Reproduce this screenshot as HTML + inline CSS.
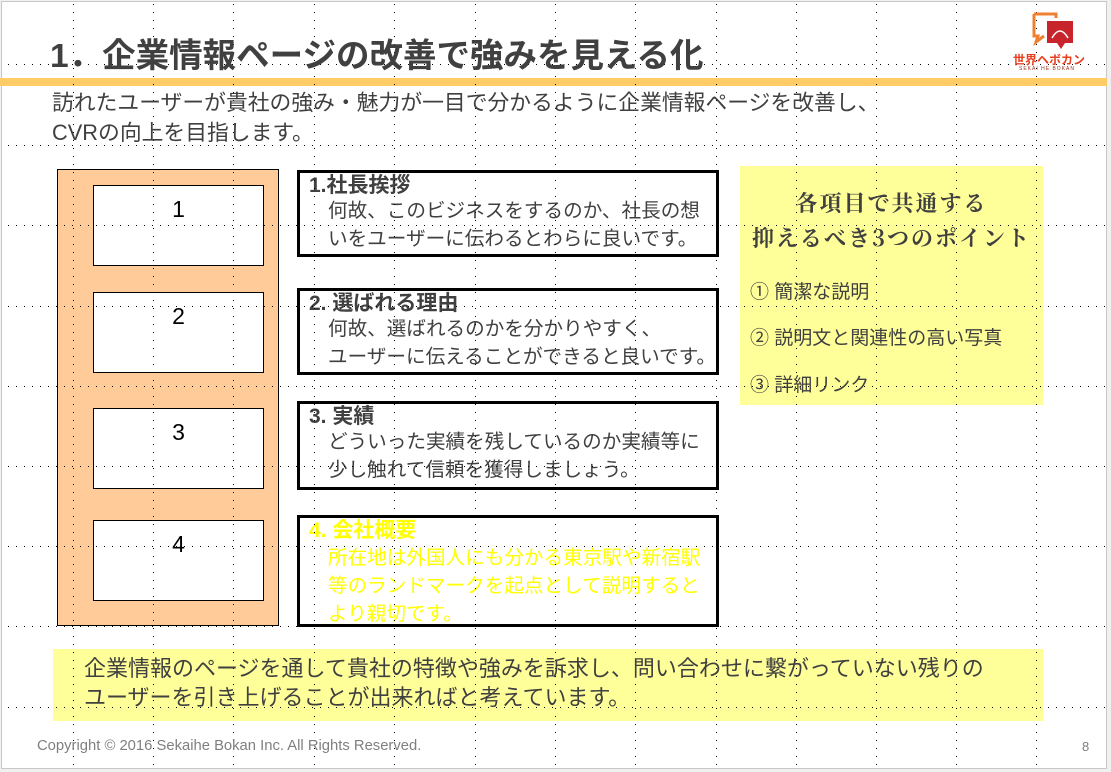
<!DOCTYPE html>
<html><head><meta charset="utf-8"><style>
body{margin:0;width:1111px;height:772px;background:#f0f0f0;overflow:hidden;position:relative;font-family:"Liberation Sans","Noto Sans CJK JP",sans-serif;color:#404040}
.slide{position:absolute;left:1px;top:1px;width:1106px;height:768px;background:#fff;border:1px solid #c8c8c8;box-sizing:border-box}
.a{position:absolute;white-space:nowrap}
.rb{position:absolute;left:297px;width:422px;border:3px solid #000;box-sizing:border-box;background:#fff}
.rb .t{position:absolute;left:9px;top:1px;font-weight:bold;font-size:21px;line-height:24px}
.rb .b{position:absolute;left:28px;top:24px;font-size:19.6px;line-height:28px;white-space:nowrap}
.wb{position:absolute;left:93px;width:171px;height:81px;background:#fff;border:1px solid #000;box-sizing:border-box;text-align:center;font-size:23px;padding-top:10px;color:#000}
</style></head><body>
<div class="slide"></div>
<div class="a" style="left:0;top:78px;width:1107px;height:8px;background:#ffcc66"></div>
<div class="a" style="left:53px;top:649px;width:990px;height:72px;background:#ffff99"></div>
<div class="a" style="left:740px;top:166px;width:303px;height:239px;background:#ffff99"></div>
<div class="a" style="left:57px;top:169px;width:222px;height:457px;background:#ffcc99;border:1px solid #000;box-sizing:border-box"></div>
<div class="wb" style="top:185px">1</div>
<div class="wb" style="top:292px">2</div>
<div class="wb" style="top:408px">3</div>
<div class="wb" style="top:520px">4</div>
<div class="rb" style="top:170px;height:87px"><div class="t">1.社長挨拶</div><div class="b">何故、このビジネスをするのか、社長の想<br>いをユーザーに伝わるとわらに良いです。</div></div>
<div class="rb" style="top:288px;height:87px"><div class="t">2. 選ばれる理由</div><div class="b">何故、選ばれるのかを分かりやすく、<br>ユーザーに伝えることができると良いです。</div></div>
<div class="rb" style="top:401px;height:89px"><div class="t">3. 実績</div><div class="b">どういった実績を残しているのか実績等に<br>少し触れて信頼を獲得しましょう。</div></div>
<div class="rb" style="top:515px;height:112px;color:#ffff00"><div class="t">4. 会社概要</div><div class="b" style="top:26px">所在地は外国人にも分かる東京駅や新宿駅<br>等のランドマークを起点として説明すると<br>より親切です。</div></div>
<svg class="a" style="left:0;top:0" width="1111" height="772">
<g stroke="#000" stroke-width="1" stroke-dasharray="1 7">
<line x1="8" y1="64.5" x2="1105" y2="64.5"/><line x1="8" y1="145.5" x2="1105" y2="145.5"/><line x1="8" y1="225.5" x2="1105" y2="225.5"/><line x1="8" y1="306.5" x2="1105" y2="306.5"/><line x1="8" y1="386.5" x2="1105" y2="386.5"/><line x1="8" y1="466.5" x2="1105" y2="466.5"/><line x1="8" y1="546.5" x2="1105" y2="546.5"/><line x1="8" y1="626.5" x2="1105" y2="626.5"/><line x1="8" y1="707.5" x2="1105" y2="707.5"/>
<line x1="73.5" y1="4" x2="73.5" y2="766"/><line x1="153.5" y1="4" x2="153.5" y2="766"/><line x1="233.5" y1="4" x2="233.5" y2="766"/><line x1="314.5" y1="4" x2="314.5" y2="766"/><line x1="394.5" y1="4" x2="394.5" y2="766"/><line x1="475.5" y1="4" x2="475.5" y2="766"/><line x1="555.5" y1="4" x2="555.5" y2="766"/><line x1="635.5" y1="4" x2="635.5" y2="766"/><line x1="716.5" y1="4" x2="716.5" y2="766"/><line x1="796.5" y1="4" x2="796.5" y2="766"/><line x1="876.5" y1="4" x2="876.5" y2="766"/><line x1="956.5" y1="4" x2="956.5" y2="766"/><line x1="1036.5" y1="4" x2="1036.5" y2="766"/>
</g>
<path d="M1034 14 h22 v4 M1034 14 v22 h4 l-2 6 8-6" fill="none" stroke="#f08030" stroke-width="3"/>
<path d="M1047 21 h26 v22 h-8 l-4 6 -4-6 h-10 z" fill="#c8242c"/>
<path d="M1052 38 q8-14 16 0" fill="none" stroke="#fff" stroke-width="1.5"/>
</svg>
<div class="a" style="left:1013px;top:51px;font-size:12px;color:#e84020;font-weight:bold">世界ヘボカン</div>
<div class="a" style="left:1019px;top:66px;font-size:5px;color:#a03020;letter-spacing:1px">SEKAI HE BOKAN</div>
<div class="a" style="left:50px;top:28px;font-size:33.5px;font-weight:bold;color:#404040">1．企業情報ページの改善で強みを見える化</div>
<div class="a" style="left:52px;top:88px;font-size:21.8px;line-height:30px">訪れたユーザーが貴社の強み・魅力が一目で分かるように企業情報ページを改善し、<br>CVRの向上を目指します。</div>
<div class="a" style="left:740px;top:185px;width:303px;text-align:center;font-size:22px;font-weight:bold;line-height:35px;white-space:normal;letter-spacing:2px;font-family:'Noto Serif CJK SC','Liberation Serif',serif">各項目で共通する<br>抑えるべき3つのポイント</div>
<div class="a" style="left:750px;top:277px;font-size:19px">① 簡潔な説明</div>
<div class="a" style="left:750px;top:323px;font-size:19px">② 説明文と関連性の高い写真</div>
<div class="a" style="left:750px;top:370px;font-size:19px">③ 詳細リンク</div>
<div class="a" style="left:84px;top:654px;font-size:22px;line-height:29px">企業情報のページを通して貴社の特徴や強みを訴求し、問い合わせに繋がっていない残りの<br>ユーザーを引き上げることが出来ればと考えています。</div>
<div class="a" style="left:37px;top:738px;font-size:14.8px;color:#7f7f7f">Copyright © 2016 Sekaihe Bokan Inc. All Rights Reserved.</div>
<div class="a" style="left:1082px;top:739px;font-size:13px;color:#7f7f7f">8</div>
</body></html>
